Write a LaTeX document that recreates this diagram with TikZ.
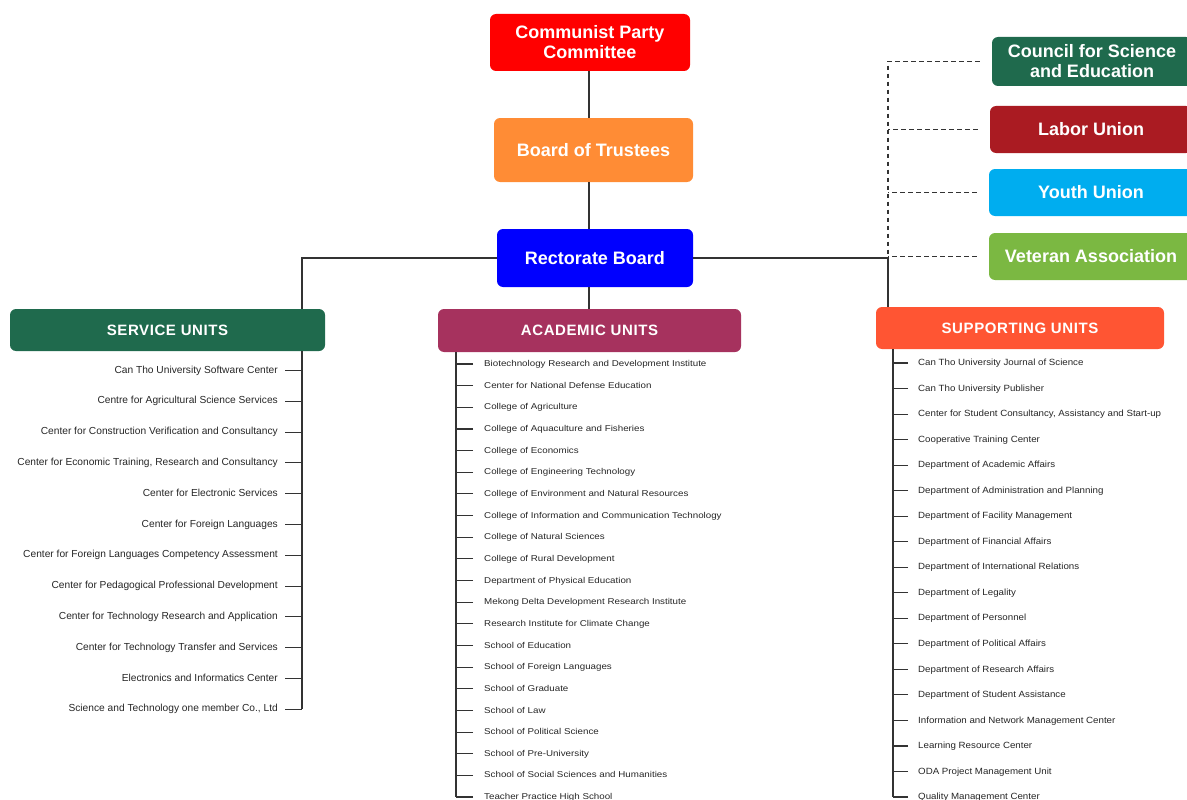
\documentclass[tikz,border=0pt]{standalone}
\usepackage{fontspec}
\setmainfont{Liberation Sans}
\newfontfamily\capfont[LetterSpace=4]{Liberation Sans}
\newfontfamily\acfont[FakeStretch=1.15]{Liberation Sans}
\newfontfamily\spfont[FakeStretch=1.08]{Liberation Sans}
\definecolor{cpred}{HTML}{FF0000}
\definecolor{btorange}{HTML}{FF8C35}
\definecolor{rbblue}{HTML}{0000FF}
\definecolor{svgreen}{HTML}{1F6A4D}
\definecolor{acmagenta}{HTML}{A6325E}
\definecolor{sporange}{HTML}{FF5533}
\definecolor{lured}{HTML}{AA1B22}
\definecolor{yucyan}{HTML}{00ADEF}
\definecolor{vagreen}{HTML}{7BB842}
\definecolor{linegray}{HTML}{333333}
\tikzset{
  topbox/.style={rounded corners=6pt, text=white, align=center,
    font=\fontsize{18}{20}\selectfont\bfseries, inner sep=0pt},
  unitbox/.style={rounded corners=6pt, text=white, inner sep=0pt,
    font=\fontsize{15}{17}\selectfont\capfont\bfseries},
  link/.style={draw=linegray, line width=1.1pt},
  dashlink/.style={draw=linegray, line width=1.2pt, dash pattern=on 4.5pt off 3.5pt},
  item/.style={inner sep=0pt, text=black!85}
}
\begin{document}
\begin{tikzpicture}[x=1pt,y=-1pt]
  \useasboundingbox (0,0) rectangle (1187,800);
  \coordinate (mx) at (589,0);
  \coordinate (sv) at (302,0);
  \coordinate (av) at (456,0);
  \coordinate (pv) at (888,0);
  \coordinate (qv) at (893,0);

  \node[topbox, fill=cpred, minimum width=200, minimum height=57] (cp) at (590,42.5) {Communist Party\\Committee};
  \node[topbox, fill=btorange, minimum width=199, minimum height=64] (bt) at (593.5,150) {Board of Trustees};
  \node[topbox, fill=rbblue, minimum width=196, minimum height=58] (rb) at (595,258) {Rectorate Board};

  \node[topbox, fill=svgreen, minimum width=200, minimum height=49] (cse) at (1092,61.5) {Council for Science\\and Education};
  \node[topbox, fill=lured, minimum width=202, minimum height=47] (lab) at (1091,129.5) {Labor Union};
  \node[topbox, fill=yucyan, minimum width=204, minimum height=47] (yu) at (1091,192.5) {Youth Union};
  \node[topbox, fill=vagreen, minimum width=204, minimum height=47] (vet) at (1091,256.5) {Veteran Association};

  \node[unitbox, fill=svgreen, minimum width=315, minimum height=42] (sbox) at (167.5,330) {SERVICE UNITS};
  \node[unitbox, fill=acmagenta, minimum width=303, minimum height=43] (abox) at (589.5,330.5) {ACADEMIC UNITS};
  \node[unitbox, fill=sporange, minimum width=288, minimum height=42] (pbox) at (1020,328) {SUPPORTING UNITS};

  \foreach \t [count=\i] in {Can Tho University Software Center,
      Centre for Agricultural Science Services,
      Center for Construction Verification and Consultancy,
      {Center for Economic Training, Research and Consultancy},
      Center for Electronic Services,
      Center for Foreign Languages,
      Center for Foreign Languages Competency Assessment,
      Center for Pedagogical Professional Development,
      Center for Technology Research and Application,
      Center for Technology Transfer and Services,
      Electronics and Informatics Center,
      {Science and Technology one member Co., Ltd}}
    \node[item, anchor=mid east, font=\fontsize{10.2}{12}\selectfont] (s\i) at ({278},{370.5+30.8*(\i-1)}) {\t};

  \foreach \t [count=\i] in {Biotechnology Research and Development Institute,
      Center for National Defense Education,
      College of Agriculture,
      College of Aquaculture and Fisheries,
      College of Economics,
      College of Engineering Technology,
      College of Environment and Natural Resources,
      College of Information and Communication Technology,
      College of Natural Sciences,
      College of Rural Development,
      Department of Physical Education,
      Mekong Delta Development Research Institute,
      Research Institute for Climate Change,
      School of Education,
      School of Foreign Languages,
      School of Graduate,
      School of Law,
      School of Political Science,
      School of Pre-University,
      School of Social Sciences and Humanities,
      Teacher Practice High School}
    \node[item, anchor=mid west, font=\fontsize{8.5}{10}\selectfont\acfont] (a\i) at ({484},{364+21.65*(\i-1)}) {\t};

  \foreach \t [count=\i] in {Can Tho University Journal of Science,
      Can Tho University Publisher,
      {Center for Student Consultancy, Assistancy and Start-up},
      Cooperative Training Center,
      Department of Academic Affairs,
      Department of Administration and Planning,
      Department of Facility Management,
      Department of Financial Affairs,
      Department of International Relations,
      Department of Legality,
      Department of Personnel,
      Department of Political Affairs,
      Department of Research Affairs,
      Department of Student Assistance,
      Information and Network Management Center,
      Learning Resource Center,
      ODA Project Management Unit,
      Quality Management Center}
    \node[item, anchor=mid west, font=\fontsize{9}{11}\selectfont\spfont] (p\i) at ({918},{363+25.53*(\i-1)}) {\t};

  \begin{scope}[link]
    \draw (cp.south -| mx) -- (bt.north -| mx);
    \draw (bt.south -| mx) -- (rb.north -| mx);
    \draw (rb.south -| mx) -- (abox.north -| mx);
    \draw (rb.west) -| (sbox.north -| sv);
    \draw (rb.east) -| (pbox.north -| pv);
    \draw (sbox.south -| sv) -- (s12.mid east -| sv);
    \draw (abox.south -| av) -- (a21.mid west -| av);
    \draw (pbox.south -| qv) -- (p18.mid west -| qv);
    \foreach \i in {1,...,12}
      \draw[shorten <=7pt] (s\i.mid east) -- (s\i.mid east -| sv);
    \foreach \i in {1,...,21}
      \draw[shorten <=11pt] (a\i.mid west) -- (a\i.mid west -| av);
    \foreach \i in {1,...,18}
      \draw[shorten <=10pt] (p\i.mid west) -- (p\i.mid west -| qv);
  \end{scope}

  \begin{scope}[dashlink]
    \draw[shorten <=12pt] (cse.west) -| (rb.east -| pv);
    \draw[shorten <=12pt] (lab.west) -- (lab.west -| pv);
    \draw[shorten <=12pt] (yu.west) -- (yu.west -| pv);
    \draw[shorten <=12pt] (vet.west) -- (vet.west -| pv);
  \end{scope}
\end{tikzpicture}
\end{document}
